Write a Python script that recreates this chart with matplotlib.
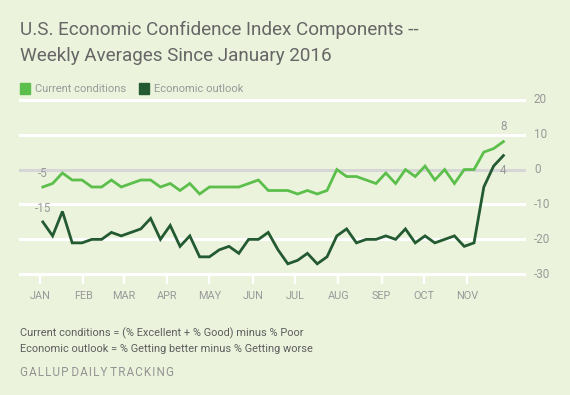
import matplotlib
matplotlib.use("Agg")
import matplotlib.pyplot as plt
import matplotlib.dates as mdates
import numpy as np
import pandas as pd

# ---- data ----
weeks = pd.date_range("2016-01-03", periods=48, freq="7D")
current_conditions = [-5, -4, -1, -3, -3, -5, -5, -3, -5, -4, -3, -3, -5, -4, -6, -4,
                      -7, -5, -5, -5, -5, -4, -3, -6, -6, -6, -7, -6, -7, -6, 0, -2,
                      -2, -3, -4, -1, -4, 0, -2, 1, -3, 0, -4, 0, 0, 5, 6, 8]
economic_outlook = [-15, -19, -12, -21, -21, -20, -20, -18, -19, -18, -17, -14, -20, -16, -22, -19,
                    -25, -25, -23, -22, -24, -20, -20, -18, -23, -27, -26, -24, -27, -25, -19, -17,
                    -21, -20, -20, -19, -20, -17, -21, -19, -21, -20, -19, -22, -21, -5, 1, 4]
series_names = ["Current conditions", "Economic outlook"]
month_labels = ["JAN", "FEB", "MAR", "APR", "MAY", "JUN", "JUL", "AUG", "SEP", "OCT", "NOV"]
month_starts = pd.date_range("2016-01-01", periods=11, freq="MS")
y_ticks = [20, 10, 0, -10, -20, -30]

# ---- style ----
BG = "#ebf3dc"
LIGHT = "#5cbf4c"
DARK = "#235a31"
GRAY = "#999999"
FONT = "Roboto"

fig = plt.figure(figsize=(5.70, 3.95), dpi=100, facecolor=BG)
ax = fig.add_axes([20 / 570, 1 - 274.3 / 395, 504 / 570, (274.3 - 99.7) / 395])
ax.set_facecolor(BG)
for s in ax.spines.values():
    s.set_visible(False)

x = mdates.date2num(weeks)
jan1 = mdates.date2num(pd.Timestamp("2016-01-01"))
ax.set_xlim(jan1 - 14.3, jan1 + 345.7)
ax.set_ylim(-30, 20)

for yv in y_ticks:
    ax.axhline(yv, color="#d6d6d6" if yv == 0 else "white", lw=2.2, zorder=1, clip_on=False)

ax.plot(x, current_conditions, color=LIGHT, lw=2, zorder=3, solid_joinstyle="miter")
ax.plot(x, economic_outlook, color=DARK, lw=2, zorder=3, solid_joinstyle="miter")

ax.set_yticks([])
ax.set_xticks(mdates.date2num(month_starts))
ax.set_xticklabels(month_labels, fontfamily=FONT, fontsize=7.8, color=GRAY)
ax.tick_params(axis="x", length=7.2, width=1.6, color="white", pad=5)

for yv in y_ticks:
    ax.text(1.0 + 10 / 504, yv, str(yv), transform=ax.get_yaxis_transform(),
            ha="left", va="center", fontfamily=FONT, fontsize=8.4, color=GRAY)

# point labels
ann = dict(fontfamily=FONT, fontsize=8.4, color=GRAY, ha="center")
ax.annotate(str(current_conditions[0]), (x[0], current_conditions[0]), xytext=(0, 10),
            textcoords="offset points", va="center", **ann)
ax.annotate(str(economic_outlook[0]), (x[0], economic_outlook[0]), xytext=(0, 10),
            textcoords="offset points", va="center", **ann)
ax.annotate(str(current_conditions[-1]), (x[-1], current_conditions[-1]), xytext=(0, 11),
            textcoords="offset points", va="center", **ann)
ax.annotate(str(economic_outlook[-1]), (x[-1], economic_outlook[-1]), xytext=(0, -11),
            textcoords="offset points", va="center", **ann)

# title
fig.text(20 / 570, 1 - 30 / 395, "U.S. Economic Confidence Index Components --",
         fontfamily=FONT, fontsize=13.6, color="#666666", va="center", ha="left")
fig.text(20 / 570, 1 - 56 / 395, "Weekly Averages Since January 2016",
         fontfamily=FONT, fontsize=13.6, color="#666666", va="center", ha="left")

# legend
leg_y = 1 - 88.5 / 395
fig.patches.append(plt.Rectangle((20 / 570, 1 - 93.5 / 395), 10 / 570, 10 / 395,
                                 transform=fig.transFigure, color=LIGHT))
fig.text(35 / 570, leg_y, series_names[0], fontfamily=FONT, fontsize=8.0, color=GRAY,
         va="center", ha="left")
fig.patches.append(plt.Rectangle((139 / 570, 1 - 93.5 / 395), 10 / 570, 10 / 395,
                                 transform=fig.transFigure, color=DARK))
fig.text(154 / 570, leg_y, series_names[1], fontfamily=FONT, fontsize=8.0, color=GRAY,
         va="center", ha="left")

# footnotes
fig.text(20 / 570, 1 - 333 / 395, "Current conditions = (% Excellent + % Good) minus % Poor",
         fontfamily=FONT, fontsize=7.9, color="#5e5e5e", va="center", ha="left")
fig.text(20 / 570, 1 - 348.5 / 395, "Economic outlook = % Getting better minus % Getting worse",
         fontfamily=FONT, fontsize=7.9, color="#5e5e5e", va="center", ha="left")
fig.text(20 / 570, 1 - 372.5 / 395, "G A L L U P   D A I L Y   T R A C K I N G".replace(" ", "\u200a").replace("\u200a\u200a\u200a", " "),
         fontfamily=[FONT, "DejaVu Sans"], fontsize=8.4, color="#939393", va="center", ha="left")

fig.savefig("out.png", dpi=100, facecolor=BG)
